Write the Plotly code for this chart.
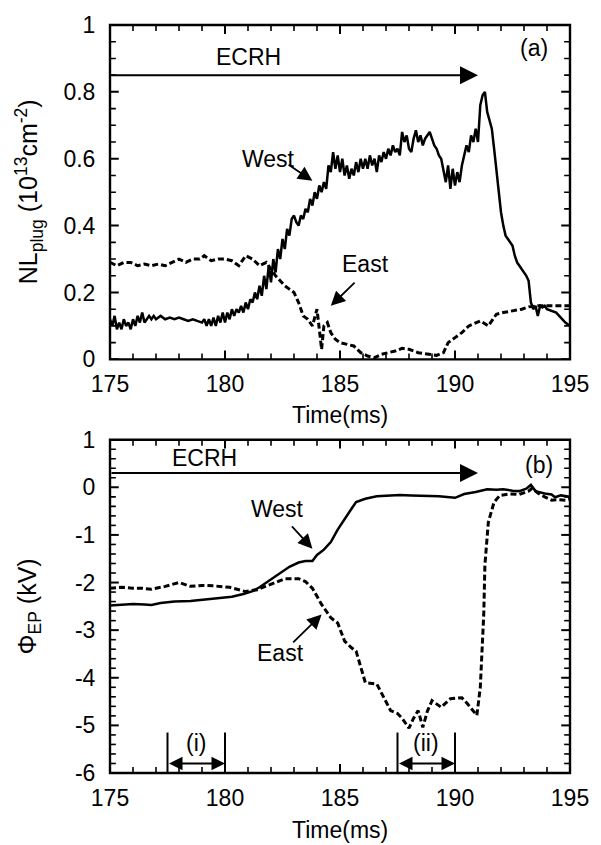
import plotly.graph_objects as go

# ---------------- data (a) ----------------
ta_west = [175.0,175.1,175.2,175.3,175.4,175.5,175.6,175.7,175.8,175.9,176.0,176.1,176.2,176.3,176.4,176.5,176.6,176.7,176.8,176.9,
           177.0,177.2,177.4,177.6,177.8,178.0,178.2,178.4,178.6,178.8,179.0,179.1,179.2,179.3,179.4,179.5,179.6,179.7,179.8,179.9,
           180.0,180.1,180.2,180.3,180.4,180.5,180.6,180.7,180.8,180.9,181.0,181.1,181.2,181.3,181.4,181.5,181.6,181.7,181.8,181.9,
           182.0,182.1,182.2,182.3,182.4,182.5,182.6,182.7,182.8,182.9,183.0,183.1,183.2,183.3,183.4,183.5,183.6,183.7,183.8,183.9,
           184.0,184.1,184.2,184.3,184.4,184.5,184.6,184.7,184.8,184.9,185.0,185.1,185.2,185.3,185.4,185.5,185.6,185.7,185.8,185.9,
           186.0,186.1,186.2,186.3,186.4,186.5,186.6,186.7,186.8,186.9,187.0,187.1,187.2,187.3,187.4,187.5,187.6,187.7,187.8,187.9,
           188.0,188.1,188.2,188.3,188.4,188.5,188.6,188.7,188.8,188.9,189.0,189.1,189.2,189.3,189.4,189.5,189.6,189.7,189.8,189.9,
           190.0,190.1,190.2,190.3,190.4,190.5,190.6,190.7,190.8,190.9,191.0,191.1,191.2,191.3,191.4,191.5,191.6,191.7,191.8,191.9,
           192.0,192.1,192.2,192.3,192.4,192.5,192.6,192.7,192.8,192.9,193.0,193.1,193.2,193.3,193.4,193.5,193.6,193.7,193.8,193.9,
           194.0,194.2,194.4,194.6,194.8,195.0]
na_west = [0.12,0.10,0.13,0.09,0.11,0.09,0.12,0.10,0.11,0.09,0.12,0.10,0.13,0.11,0.14,0.11,0.12,0.13,0.12,0.13,
           0.12,0.13,0.12,0.125,0.12,0.125,0.12,0.115,0.12,0.115,0.11,0.12,0.10,0.12,0.10,0.125,0.10,0.13,0.11,0.14,
           0.11,0.14,0.12,0.15,0.13,0.15,0.14,0.16,0.14,0.17,0.15,0.18,0.17,0.20,0.18,0.22,0.19,0.25,0.21,0.28,
           0.23,0.30,0.26,0.33,0.30,0.36,0.33,0.39,0.37,0.42,0.43,0.41,0.40,0.43,0.42,0.45,0.44,0.48,0.46,0.50,
           0.48,0.52,0.50,0.53,0.51,0.58,0.56,0.62,0.57,0.61,0.56,0.60,0.55,0.58,0.54,0.57,0.55,0.59,0.56,0.60,
           0.57,0.60,0.57,0.61,0.58,0.60,0.56,0.61,0.59,0.62,0.60,0.63,0.61,0.64,0.62,0.63,0.61,0.68,0.65,0.67,
           0.63,0.62,0.66,0.685,0.65,0.67,0.64,0.66,0.67,0.68,0.66,0.64,0.63,0.61,0.60,0.57,0.53,0.58,0.51,0.57,
           0.52,0.56,0.53,0.58,0.61,0.64,0.62,0.67,0.65,0.69,0.65,0.76,0.79,0.80,0.74,0.71,0.69,0.63,0.57,0.50,
           0.44,0.40,0.37,0.36,0.35,0.34,0.31,0.29,0.28,0.27,0.26,0.25,0.235,0.17,0.15,0.16,0.13,0.16,0.155,0.16,
           0.15,0.145,0.14,0.125,0.11,0.10]

ta_east = [175.0,175.3,175.6,175.9,176.2,176.5,176.8,177.1,177.4,177.7,178.0,178.3,178.6,178.9,179.1,179.4,179.7,180.0,180.3,180.6,
           180.9,181.2,181.5,181.8,182.0,182.2,182.4,182.6,182.8,183.0,183.2,183.4,183.6,183.8,184.0,184.1,184.2,184.3,184.45,184.6,
           184.8,185.0,185.3,185.6,185.9,186.2,186.5,186.8,187.1,187.4,187.7,188.0,188.4,188.8,189.2,189.5,189.7,190.0,190.3,190.6,
           190.9,191.1,191.45,191.8,192.1,192.5,192.9,193.2,193.6,194.0,194.5,195.0]
na_east = [0.29,0.28,0.29,0.29,0.28,0.285,0.28,0.285,0.28,0.29,0.30,0.29,0.30,0.30,0.31,0.295,0.30,0.30,0.295,0.28,
           0.31,0.30,0.28,0.29,0.27,0.25,0.235,0.22,0.21,0.20,0.17,0.13,0.12,0.10,0.15,0.09,0.03,0.10,0.11,0.08,
           0.06,0.05,0.045,0.04,0.02,0.01,0.005,0.015,0.02,0.025,0.033,0.03,0.02,0.015,0.012,0.02,0.05,0.065,0.08,0.10,
           0.11,0.115,0.10,0.135,0.14,0.145,0.15,0.157,0.16,0.16,0.16,0.16]

# ---------------- data (b) ----------------
tb_west = [175.0,175.5,176.0,176.5,176.8,177.2,177.8,178.5,179.2,179.8,180.3,180.8,181.2,181.5,182.1,182.8,183.2,183.5,183.8,184.0,
           184.3,184.6,184.9,185.2,185.5,185.7,186.1,186.6,187.1,187.6,188.1,188.6,189.3,190.0,190.4,190.9,191.4,191.8,192.1,192.5,
           192.8,193.1,193.3,193.5,193.7,193.9,194.2,194.35,194.6,195.0]
phi_west = [-2.48,-2.47,-2.45,-2.46,-2.47,-2.43,-2.40,-2.39,-2.36,-2.33,-2.30,-2.24,-2.18,-2.10,-1.91,-1.67,-1.58,-1.55,-1.55,-1.42,
            -1.31,-1.15,-0.89,-0.66,-0.45,-0.31,-0.24,-0.19,-0.17,-0.16,-0.17,-0.18,-0.19,-0.22,-0.14,-0.10,-0.04,-0.05,-0.04,-0.07,
            -0.08,-0.03,0.05,-0.08,-0.11,-0.13,-0.15,-0.21,-0.17,-0.20]

tb_east = [175.0,175.5,176.0,176.4,176.8,177.4,178.0,178.5,179.0,179.5,180.2,180.9,181.4,182.1,182.6,183.2,183.5,183.8,184.2,184.6,
           184.9,185.2,185.5,185.7,185.9,186.1,186.6,186.9,187.2,187.5,187.7,188.0,188.2,188.4,188.6,188.8,189.0,189.4,189.8,190.3,
           190.55,190.95,191.1,191.25,191.3,191.45,191.7,191.95,192.4,192.8,193.2,193.35,193.6,193.9,194.2,194.5,194.8,195.0]
phi_east = [-2.12,-2.10,-2.12,-2.12,-2.14,-2.08,-2.00,-2.08,-2.06,-2.07,-2.10,-2.19,-2.15,-2.02,-1.92,-1.92,-1.98,-2.12,-2.46,-2.74,
            -2.85,-3.23,-3.37,-3.44,-3.79,-4.10,-4.13,-4.41,-4.69,-4.75,-4.85,-5.06,-4.85,-4.69,-5.04,-4.70,-4.48,-4.62,-4.44,-4.42,
            -4.55,-4.79,-4.20,-2.67,-1.63,-0.73,-0.31,-0.17,-0.14,-0.15,-0.08,-0.02,-0.12,-0.20,-0.27,-0.26,-0.27,-0.25]

x_ticks = [175, 180, 185, 190, 195]
ya_ticks = [0, 0.2, 0.4, 0.6, 0.8, 1]
ya_text = ["0", "0.2", "0.4", "0.6", "0.8", "1"]
yb_ticks = [-6, -5, -4, -3, -2, -1, 0, 1]
yb_text = ["-6", "-5", "-4", "-3", "-2", "-1", "0", "1"]

# minor tick positions (axis decoration)
x_minor = [175 + i for i in range(21)]
ya_minor = [round(0.05 * i, 2) for i in range(21)]
yb_minor = [round(-6 + 0.2 * i, 1) for i in range(36)]

FONT = "Liberation Sans, Arial, sans-serif"
FS = 23

fig = go.Figure()
solid = dict(color="black", width=2.5)
dashed = dict(color="black", width=3, dash="6px,3px")
fig.add_trace(go.Scatter(x=ta_west, y=na_west, mode="lines", line=solid, xaxis="x", yaxis="y"))
fig.add_trace(go.Scatter(x=ta_east, y=na_east, mode="lines", line=dashed, xaxis="x", yaxis="y"))
fig.add_trace(go.Scatter(x=tb_west, y=phi_west, mode="lines", line=solid, xaxis="x2", yaxis="y2"))
fig.add_trace(go.Scatter(x=tb_east, y=phi_east, mode="lines", line=dashed, xaxis="x2", yaxis="y2"))

def axis(rng, vals, text, domain, anchor, gap):
    # labels only; frame and tick marks are drawn as shapes below
    return dict(range=rng, tickmode="array", tickvals=vals, ticktext=text, domain=domain, anchor=anchor,
                showline=False, mirror=False, ticks="outside", ticklen=gap, tickcolor="rgba(0,0,0,0)",
                showgrid=False, zeroline=False, ticklabeloverflow="allow",
                tickfont=dict(family=FONT, size=FS, color="black"))

xa = axis([175, 195], x_ticks, [str(v) for v in x_ticks], [0, 1], "y", 4)
xb = axis([175, 195], x_ticks, [str(v) for v in x_ticks], [0, 1], "y2", 4)
ya = axis([0, 1], ya_ticks, ya_text, [0.553, 1.0], "x", 9)
yb = axis([-6, 1], yb_ticks, yb_text, [0.0, 0.4456], "x2", 9)

PLOT_W, PLOT_H = 472.0, 337.0
MAJ, MIN = 9.0, 6.0
shapes = []

def frame_and_ticks(xname, yname, xmaj, xmin, ymaj, ymin):
    xd, yd = xname + " domain", yname + " domain"
    shapes.append(dict(type="rect", xref=xd, yref=yd, x0=0, x1=1, y0=0, y1=1,
                       line=dict(color="black", width=2.4), fillcolor="rgba(0,0,0,0)", layer="above"))
    for v in xmin:
        L = (MAJ if v in xmaj else MIN) / PLOT_H
        w = 2 if v in xmaj else 1.6
        shapes.append(dict(type="line", xref=xname, yref=yd, x0=v, x1=v, y0=0, y1=L,
                           line=dict(color="black", width=w), layer="above"))
        shapes.append(dict(type="line", xref=xname, yref=yd, x0=v, x1=v, y0=1, y1=1 - L,
                           line=dict(color="black", width=w), layer="above"))
    for v in ymin:
        L = (MAJ if v in ymaj else MIN) / PLOT_W
        w = 2 if v in ymaj else 1.6
        shapes.append(dict(type="line", xref=xd, yref=yname, x0=0, x1=L, y0=v, y1=v,
                           line=dict(color="black", width=w), layer="above"))
        shapes.append(dict(type="line", xref=xd, yref=yname, x0=1, x1=1 - L, y0=v, y1=v,
                           line=dict(color="black", width=w), layer="above"))

frame_and_ticks("x", "y", x_ticks, x_minor, ya_ticks, ya_minor)
frame_and_ticks("x2", "y2", x_ticks, x_minor, yb_ticks, yb_minor)

ann = []
tf = dict(family=FONT, size=25, color="black")

def label(text, x, y, xref, yref, size=FS):
    ann.append(dict(text=text, x=x, y=y, xref=xref, yref=yref, showarrow=False,
                    font=dict(family=FONT, size=size, color="black"), xanchor="center", yanchor="middle"))

def arrow(x0, y0, x1, y1, xref, yref, head=2, size=1.4, width=2, side="end"):
    ann.append(dict(text="", x=x1, y=y1, ax=x0, ay=y0, xref=xref, yref=yref, axref=xref, ayref=yref,
                    showarrow=True, arrowhead=head, arrowsize=size, arrowwidth=width, arrowcolor="black",
                    arrowside=side, standoff=0, startstandoff=0))

# panel (a)
arrow(175, 0.85, 191.0, 0.85, "x", "y", head=2, size=1.8, width=2)
label("ECRH", 181.0, 0.905, "x", "y")
label("(a)", 193.45, 0.93, "x", "y")
label("West", 181.9, 0.60, "x", "y")
arrow(182.7, 0.585, 183.8, 0.534, "x", "y", head=2, size=1.6, width=1.8)
label("East", 186.1, 0.285, "x", "y")
arrow(185.7, 0.234, 184.6, 0.16, "x", "y", head=2, size=1.6, width=1.8)
label("Time(ms)", 0.5, -0.165, "x domain", "y domain")

# panel (b)
arrow(175, 0.30, 191.0, 0.30, "x2", "y2", head=2, size=1.8, width=2)
label("ECRH", 179.1, 0.62, "x2", "y2")
label("(b)", 193.65, 0.46, "x2", "y2")
label("West", 182.3, -0.46, "x2", "y2")
arrow(182.85, -0.79, 183.8, -1.29, "x2", "y2", head=2, size=1.6, width=1.8)
label("East", 182.4, -3.48, "x2", "y2")
arrow(182.9, -3.29, 184.2, -2.67, "x2", "y2", head=2, size=1.6, width=1.8)
label("Time(ms)", 0.5, -0.17, "x2 domain", "y2 domain")

# bracket intervals (i), (ii)
brackets = [(177.5, 180.0, "(i)"), (187.5, 190.0, "(ii)")]
for a, b, t in brackets:
    for xv in (a, b):
        shapes.append(dict(type="line", xref="x2", yref="y2", x0=xv, x1=xv, y0=-5.15, y1=-6,
                           line=dict(color="black", width=2)))
    arrow(a, -5.8, b, -5.8, "x2", "y2", head=2, size=1.5, width=1.8, side="end+start")
    label(t, (a + b) / 2, -5.38, "x2", "y2")

# y-axis titles
ann.append(dict(text="NL<sub>plug</sub> (10<sup>13</sup>cm<sup>-2</sup>)", x=-0.176, y=0.5, xref="paper",
                yref="y domain", showarrow=False, textangle=-90, font=tf, xanchor="center", yanchor="middle"))
ann.append(dict(text="Φ<sub>EP</sub> (kV)", x=-0.176, y=0.5, xref="paper",
                yref="y2 domain", showarrow=False, textangle=-90, font=tf, xanchor="center", yanchor="middle"))

fig.update_layout(width=601, height=845, margin=dict(l=110, r=19, t=19, b=72),
                  paper_bgcolor="white", plot_bgcolor="white", showlegend=False,
                  xaxis=xa, yaxis=ya, xaxis2=xb, yaxis2=yb, annotations=ann, shapes=shapes,
                  font=dict(family=FONT, size=FS, color="black"))

fig.write_html("out.html")
